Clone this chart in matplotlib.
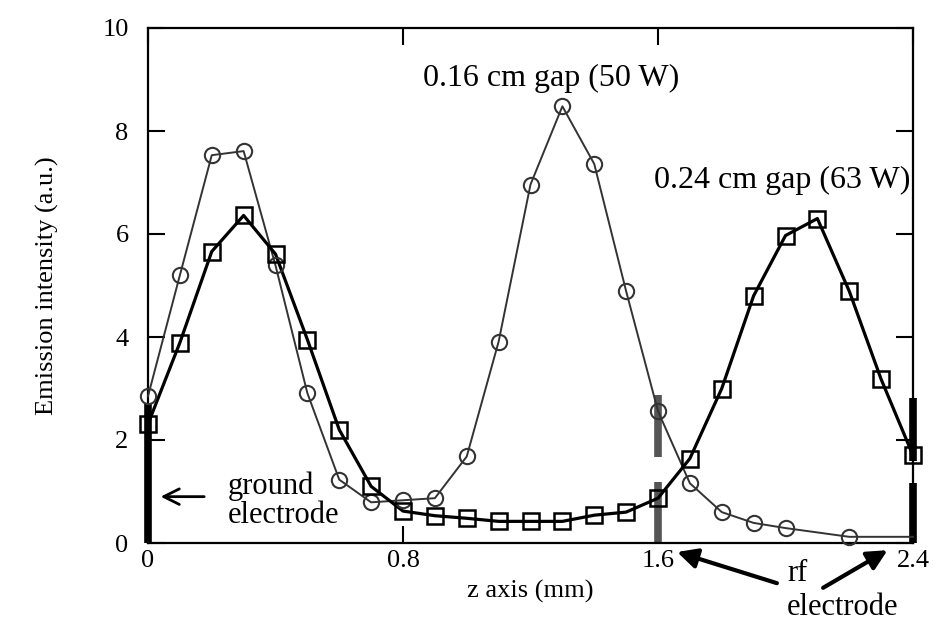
import matplotlib
matplotlib.use("Agg")
import matplotlib.pyplot as plt
import numpy as np

plt.rcParams['font.family'] = ['Liberation Serif', 'DejaVu Serif']

# 0.16 cm gap (50 W) - circles
circ_x = [0.0, 0.1, 0.2, 0.3, 0.4, 0.5, 0.6, 0.7, 0.8, 0.9, 1.0, 1.1, 1.2, 1.3,
          1.4, 1.5, 1.6, 1.7, 1.8, 1.9, 2.0, 2.2, 2.4]
circ_y = [2.85, 5.2, 7.53, 7.61, 5.39, 2.91, 1.23, 0.79, 0.83, 0.87, 1.68, 3.91,
          6.96, 8.48, 7.36, 4.89, 2.56, 1.16, 0.6, 0.39, 0.29, 0.12, 0.12]
circ_marked = [True] * 22 + [False]

# 0.24 cm gap (63 W) - squares
sq_x = [0.0, 0.1, 0.2, 0.3, 0.4, 0.5, 0.6, 0.7, 0.8, 0.9, 1.0, 1.1, 1.2, 1.3,
        1.4, 1.5, 1.6, 1.7, 1.8, 1.9, 2.0, 2.1, 2.2, 2.3, 2.4]
sq_y = [2.31, 3.89, 5.66, 6.36, 5.61, 3.95, 2.2, 1.1, 0.62, 0.53, 0.48, 0.42,
        0.42, 0.42, 0.54, 0.6, 0.87, 1.64, 3.0, 4.8, 5.97, 6.3, 4.89, 3.18, 1.7]

x_ticks = [0, 0.8, 1.6, 2.4]
x_tick_labels = ['0', '0.8', '1.6', '2.4']
y_ticks = [0, 2, 4, 6, 8, 10]

# electrode bars: (x, y_start, y_end, colour)
electrode_x = [0.0, 1.6, 1.6, 2.4, 2.4]
electrode_y0 = [0.0, 0.0, 1.67, 0.0, 1.6]
electrode_y1 = [2.7, 1.18, 2.87, 1.16, 2.82]
electrode_col = ['black', '#555555', '#555555', 'black', 'black']

fig = plt.figure(figsize=(9.34, 6.22), dpi=100)
ax = fig.add_axes([148/934, (622-543)/622, (913-148)/934, (543-28)/622])

for xe, a, b, c in zip(electrode_x, electrode_y0, electrode_y1, electrode_col):
    ax.plot([xe, xe], [a, b], color=c, lw=5.5, solid_capstyle='butt', zorder=2,
            clip_on=False)

cx = np.array(circ_x)
cy = np.array(circ_y)
m = np.array(circ_marked)
ax.plot(cx, cy, '-', color='#333333', lw=1.4, zorder=3, clip_on=False)
ax.plot(cx[m], cy[m], 'o', ms=11, mfc='none', mec='#333333', mew=1.5, zorder=4,
        clip_on=False)

ax.plot(sq_x, sq_y, '-', color='black', lw=2.3, zorder=3, clip_on=False)
ax.plot(sq_x, sq_y, 's', ms=12, mfc='none', mec='black', mew=1.8, zorder=4,
        clip_on=False)

ax.set_xlim(0, 2.4)
ax.set_ylim(0, 10)
ax.set_xticks(x_ticks)
ax.set_xticklabels(x_tick_labels)
ax.set_yticks(y_ticks)
ax.tick_params(direction='in', length=12, width=1.5, top=True, right=True,
               labelsize=19)
ax.tick_params(axis='x', pad=5)
ax.tick_params(axis='y', pad=14)
for s in ax.spines.values():
    s.set_linewidth(1.6)

ax.set_xlabel('z axis (mm)', fontsize=19, labelpad=6)
ax.set_ylabel('Emission intensity (a.u.)', fontsize=19, labelpad=31)

ax.text(0.863, 9.03, '0.16 cm gap (50 W)', fontsize=23, ha='left', va='center')
ax.text(1.587, 7.04, '0.24 cm gap (63 W)', fontsize=23, ha='left', va='center')

ax.text(0.251, 1.10, 'ground', fontsize=22, ha='left', va='center')
ax.text(0.251, 0.54, 'electrode', fontsize=22, ha='left', va='center')
ax.annotate('', xy=(0.031, 0.9), xytext=(0.185, 0.9),
            arrowprops=dict(arrowstyle='->', lw=2, color='black',
                            mutation_scale=28))

ax.text(2.005, -0.6, 'rf', fontsize=22, ha='left', va='center')
ax.text(2.005, -1.25, 'electrode', fontsize=22, ha='left', va='center')
ax.annotate('', xy=(1.66, -0.175), xytext=(1.973, -0.78),
            annotation_clip=False,
            arrowprops=dict(arrowstyle='-|>', lw=3, color='black',
                            mutation_scale=30, shrinkA=0, shrinkB=0))
ax.annotate('', xy=(2.32, -0.14), xytext=(2.118, -0.87),
            annotation_clip=False,
            arrowprops=dict(arrowstyle='-|>', lw=3, color='black',
                            mutation_scale=30, shrinkA=0, shrinkB=0))

fig.savefig('out.png', dpi=100)
